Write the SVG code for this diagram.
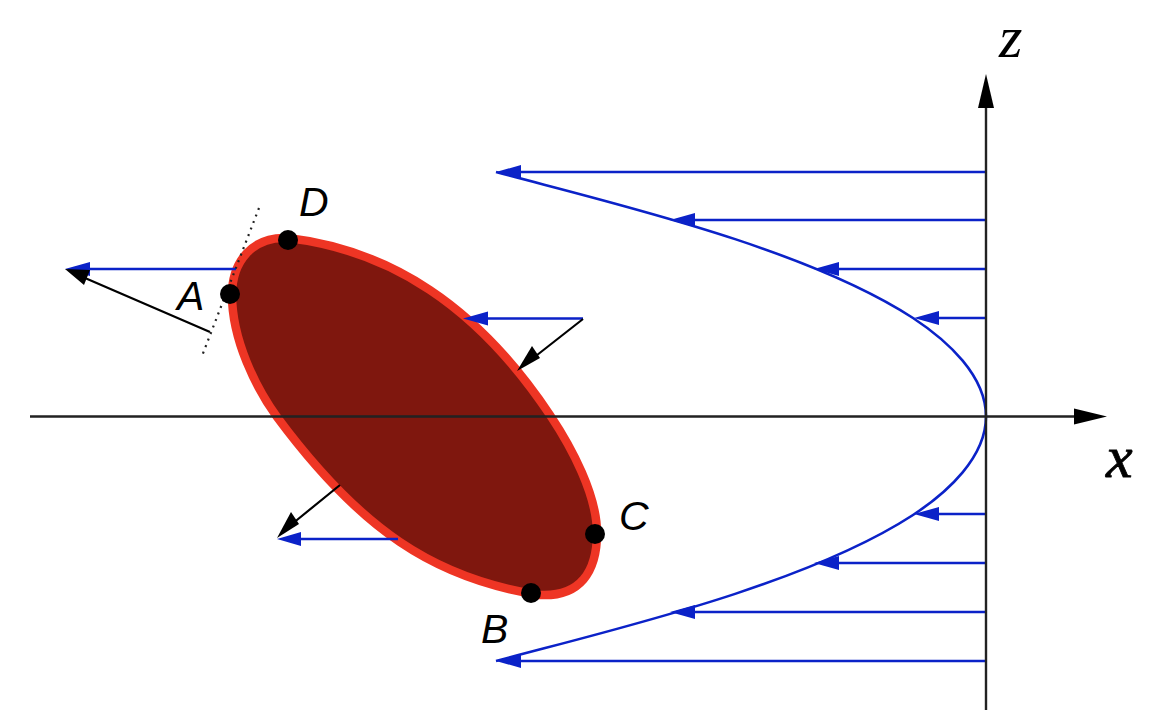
<svg xmlns="http://www.w3.org/2000/svg" width="1165" height="725" viewBox="0 0 1165 725">
<style>
.blue{stroke:#0b22c8;stroke-width:2.6;fill:none}
.blk{stroke:#000;stroke-width:2.2;fill:none}
.ax{stroke:#222;stroke-width:2.4;fill:none}
.bh{fill:#0b22c8}
.kh{fill:#000}
.lbl{font-family:"Liberation Sans",Arial,sans-serif;font-style:italic;font-size:41px;fill:#000}
.math{font-family:"Liberation Serif","Times New Roman",serif;font-style:italic;font-size:60px;fill:#000}
.pt{fill:#000}
</style>
<rect width="1165" height="725" fill="#fff"/>
<g id="blob"><path d="M288 238 C390 250 477 305.500 550 415 C572 448 597 495 597 533 C597 572 580 597 540 595 C434 579 360 529 277 417 C256 388 232 340 232 295 C232 262 252 236 288 238 Z" fill="#7f170e" stroke="#ee3524" stroke-width="8.500"/></g>
<g id="connectors">
<path class="blue" d="M496 172C606 201.700 803 246.500 913 318C948 341 986 376 986 416.500C986 457 948 492 913 515C803 586.500 606 631.300 496 661"/>
<g class="blue">
<path d="M986 172H520M986 220H695M986 269H838M986 318H936M986 514H936M986 563H838M986 612H695M986 661H520"/>
<path d="M236 269H90M583 318.500H488M398 539H300"/>
</g>
<g class="bh">
<path d="M496 172L521 165V179Z"/><path d="M670 220L695 213V227Z"/><path d="M814 269L839 262V276Z"/><path d="M914 318L939 311V325Z"/>
<path d="M914 514L939 507V521Z"/><path d="M814 563L839 556V570Z"/><path d="M670 612L695 605V619Z"/><path d="M496 661L521 654V668Z"/>
<path d="M65 269L90 262V276Z"/><path d="M463 318.500L488 311.500V325.500Z"/><path d="M277 539L301 532V546Z"/>
</g>
<path class="ax" d="M30 416.500H1080M986 100V710"/>
<path class="kh" d="M1107 416.500L1074 408.500V424.500Z"/><path class="kh" d="M986 74L978 108H994Z"/>
<path class="blk" d="M210 332L85 278M583 319L532 359M340 485L292 524"/>
<g class="kh">
<path d="M65 269L90 270L84 285Z"/><path d="M517 371L532 346L540 358Z"/><path d="M277 538L291 512L299 524Z"/>
</g>
<path d="M259 208L202 356" stroke="#222" stroke-width="2.200" stroke-dasharray="2 5" fill="none"/>
</g>
<g id="point-A"><circle class="pt" cx="230" cy="294" r="10"/><text class="lbl" x="177" y="310">A</text></g>
<g id="point-B"><circle class="pt" cx="531" cy="593" r="10"/><text class="lbl" x="481" y="643">B</text></g>
<g id="point-C"><circle class="pt" cx="595" cy="534" r="10"/><text class="lbl" x="619" y="530">C</text></g>
<g id="point-D"><circle class="pt" cx="288" cy="240" r="10"/><text class="lbl" x="299" y="216">D</text></g>
<g id="axis-labels"><text class="math" x="999" y="57">z</text><text class="math" x="1106" y="477" stroke="#000" stroke-width="0.800">x</text></g>
</svg>
